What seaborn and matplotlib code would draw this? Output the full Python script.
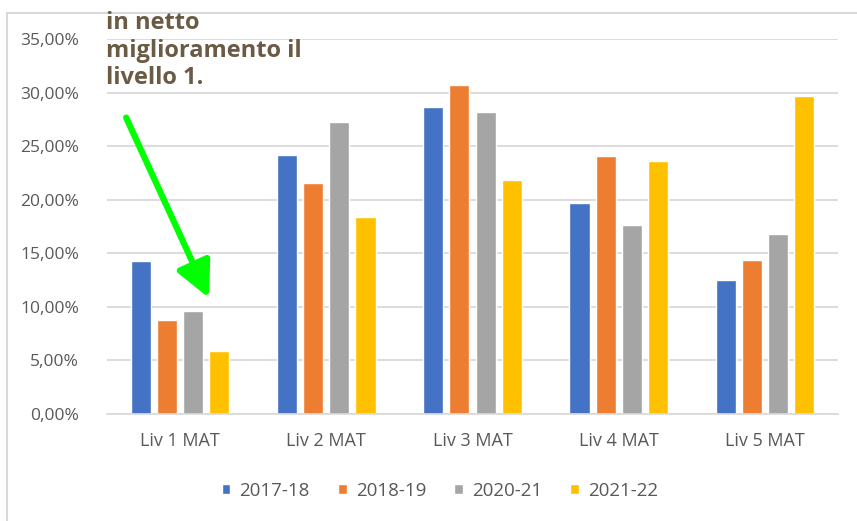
import pandas as pd
import seaborn as sns
import matplotlib.pyplot as plt
from matplotlib.patches import Rectangle
from matplotlib.ticker import FuncFormatter

sns.set_theme(style="white")
plt.rcParams["font.family"] = ["Open Sans", "DejaVu Sans"]

# data (percent)
livelli = ["Liv 1 MAT", "Liv 2 MAT", "Liv 3 MAT", "Liv 4 MAT", "Liv 5 MAT"]
anni = ["2017-18", "2018-19", "2020-21", "2021-22"]
v_2017_18 = [14.3, 24.2, 28.7, 19.7, 12.5]
v_2018_19 = [8.8, 21.6, 30.7, 24.1, 14.4]
v_2020_21 = [9.6, 27.3, 28.2, 17.6, 16.8]
v_2021_22 = [5.9, 18.4, 21.8, 23.6, 29.7]
colori = ["#4472C4", "#ED7D31", "#A5A5A5", "#FFC000"]

df = pd.DataFrame({"livello": livelli * 4,
                   "anno": [a for a in anni for _ in livelli],
                   "valore": v_2017_18 + v_2018_19 + v_2020_21 + v_2021_22})

fig = plt.figure(figsize=(8.57, 5.21), dpi=100)
ax = fig.add_axes([107/857, 1 - 414/521, 731/857, 375/521])

sns.barplot(ax=ax, data=df, x="livello", y="valore", hue="anno",
            palette=colori, width=0.715, gap=0.23, saturation=1, legend=True)

ax.set_ylim(0, 35)
ax.set_xlim(-0.5, 4.5)
ax.set_yticks(range(0, 36, 5))
ax.yaxis.set_major_formatter(FuncFormatter(lambda v, p: f"{v:.2f}%".replace(".", ",")))
ax.grid(axis="y", color="#D9D9D9", lw=1.3)
ax.set_axisbelow(True)
for s in ["top", "right", "left"]:
    ax.spines[s].set_visible(False)
ax.spines["bottom"].set_color("#D9D9D9")
ax.tick_params(length=0, labelcolor="#595959")
ax.tick_params(axis="y", pad=20, labelsize=12.5)
ax.tick_params(axis="x", pad=13, labelsize=13)
ax.set(xlabel="", ylabel="")

h, l = ax.get_legend_handles_labels()
ax.get_legend().remove()
fig.legend(h, l, loc="center", bbox_to_anchor=(440/857, 1 - 491/521), ncol=4,
           frameon=False, fontsize=13.5, handlelength=0.45, handleheight=0.45,
           handletextpad=0.5, columnspacing=1.5, labelcolor="#595959")

# outer frame
fig.patches.append(Rectangle((7/857, -0.1), 1.1, 1 - 13/521 + 0.1, transform=fig.transFigure,
                             fill=False, edgecolor="#D9D9D9", lw=1.5))

fig.text(106/857, 1 - 11/521, "in netto\nmiglioramento il\nlivello 1.",
         ha="left", va="top", fontsize=17, fontweight="bold", color="#6B5B45",
         linespacing=1.2)

ax.annotate("", xy=(0.205, 10.6), xytext=(-0.377, 27.9),
            arrowprops=dict(arrowstyle="-|>,head_length=1.8,head_width=0.9",
                            color="#00FF00", lw=4.5))

fig.savefig("out.png", dpi=100)
